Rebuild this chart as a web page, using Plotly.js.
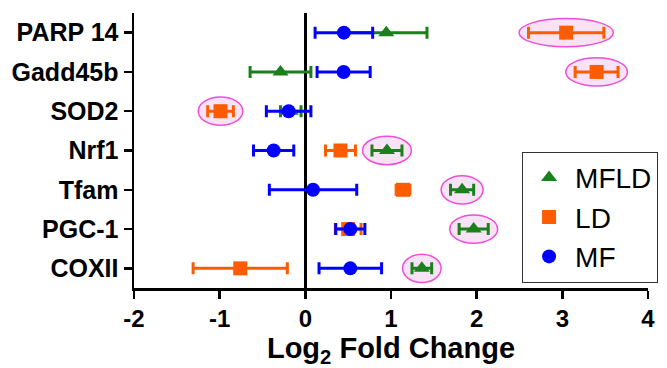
<!DOCTYPE html>
<html>
<head>
<meta charset="utf-8">
<script src="https://cdn.plot.ly/plotly-3.0.1.min.js"></script>
<style>html,body{margin:0;padding:0;background:#fff;}#chart{width:667px;height:368px;}</style>
</head>
<body>
<div id="chart"></div>
<script>
// Data
var categories = ['PARP 14', 'Gadd45b', 'SOD2', 'Nrf1', 'Tfam', 'PGC-1', 'COXII'];
var mfldValues = [0.945, -0.29, -0.17, 0.953, 1.83, 1.965, 1.36];
var mfldErrors = [0.475, 0.355, 0.12, 0.175, 0.135, 0.17, 0.115];
var ldValues   = [3.045, 3.40, -0.99, 0.41, 1.14, 0.50, -0.76];
var ldErrors   = [0.44, 0.25, 0.15, 0.175, 0.08, 0.15, 0.55];
var mfValues   = [0.45, 0.447, -0.195, -0.37, 0.09, 0.525, 0.525];
var mfErrors   = [0.336, 0.31, 0.26, 0.235, 0.51, 0.17, 0.365];
// which series is circled (highlighted) for each category
var highlighted = ['LD', 'LD', 'LD', 'MFLD', 'MFLD', 'MFLD', 'MFLD'];
var xTicks = [-2, -1, 0, 1, 2, 3, 4];

var FONT = 'Arial, "Liberation Sans", Helvetica, sans-serif';
var yIdx = categories.map(function (c, i) { return i; });

function trace(name, vals, errs, color, symbol, rank) {
  return {
    type: 'scatter', mode: 'markers', name: name,
    x: vals, y: yIdx, legendrank: rank,
    marker: {color: color, symbol: symbol, size: 14, line: {width: 0}},
    error_x: {type: 'data', array: errs, visible: true, color: color, thickness: 3, width: 6}
  };
}

var series = {
  MFLD: {v: mfldValues, e: mfldErrors},
  LD: {v: ldValues, e: ldErrors},
  MF: {v: mfValues, e: mfErrors}
};

var shapes = highlighted.map(function (s, i) {
  var v = series[s].v[i], e = series[s].e[i];
  return {
    type: 'circle', xref: 'x', yref: 'y', layer: 'below',
    x0: v - e - 0.11, x1: v + e + 0.11, y0: i - 0.36, y1: i + 0.36,
    line: {color: '#ee4fd6', width: 1.5}, fillcolor: '#f8e3f6'
  };
});

var data = [
  trace('LD', ldValues, ldErrors, '#ff5b00', 'square', 2),
  trace('MFLD', mfldValues, mfldErrors, '#1b7f1b', 'triangle-up', 1),
  trace('MF', mfValues, mfErrors, '#0000ff', 'circle', 3)
];

var layout = {
  width: 667, height: 368,
  margin: {l: 134, r: 19, t: 13, b: 80, autoexpand: false},
  paper_bgcolor: '#fff', plot_bgcolor: '#fff',
  font: {family: FONT, color: '#000'},
  showlegend: true,
  legend: {
    x: 0.755, y: 0.495, xanchor: 'left', yanchor: 'top',
    bgcolor: '#fff', bordercolor: '#333', borderwidth: 1,
    font: {family: FONT, size: 28, color: '#000'},
    itemwidth: 42
  },
  xaxis: {
    range: [-2, 4], tickvals: xTicks, ticktext: xTicks.map(String),
    showgrid: false, zeroline: true, zerolinecolor: '#000', zerolinewidth: 2.5,
    showline: true, linecolor: '#000', linewidth: 2.5,
    ticks: 'outside', ticklen: 8, tickwidth: 2.5, tickcolor: '#000',
    tickfont: {family: FONT, size: 24, weight: 'bold', color: '#000'},
    title: {text: 'Log<sub>2</sub> Fold Change', font: {family: FONT, size: 29, weight: 'bold', color: '#000'}, standoff: 4},
    fixedrange: true
  },
  yaxis: {
    range: [6.5, -0.5], tickvals: yIdx, ticktext: categories,
    showgrid: false, zeroline: false,
    showline: true, linecolor: '#000', linewidth: 2.5,
    ticks: 'outside', ticklen: 8, tickwidth: 2.5, tickcolor: '#000',
    tickfont: {family: FONT, size: 25, weight: 'bold', color: '#000'},
    fixedrange: true
  },
  shapes: shapes
};

Plotly.newPlot('chart', data, layout, {displayModeBar: false, staticPlot: true});
</script>
</body>
</html>
